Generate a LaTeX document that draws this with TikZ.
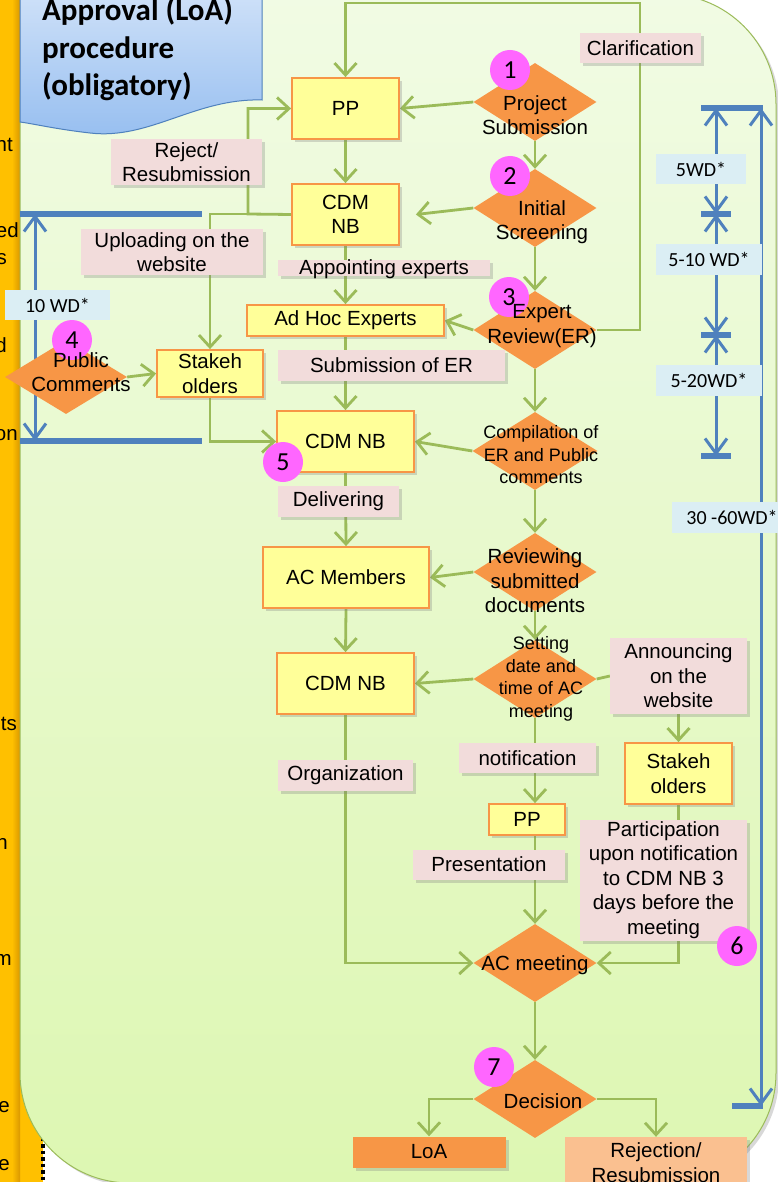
\documentclass[tikz,border=0pt]{standalone}
\usepackage{fontspec}
\setmainfont{Liberation Sans}
\newfontfamily\calfont{Carlito}
\usetikzlibrary{arrows.meta,shapes.geometric,shadows,calc}
\pgfdeclarelayer{bg}
\pgfsetlayers{bg,main}
\definecolor{cgreen}{RGB}{155,187,89}
\definecolor{corange}{RGB}{247,150,70}
\definecolor{cyellow}{RGB}{255,255,153}
\definecolor{cpink}{RGB}{242,220,219}
\definecolor{cpeach}{RGB}{250,192,144}
\definecolor{cblue}{RGB}{79,129,189}
\definecolor{clblue}{RGB}{219,238,244}
\definecolor{cmag}{RGB}{255,102,255}
\definecolor{cstrip}{RGB}{255,192,0}
\definecolor{cstripd}{RGB}{218,152,0}
\definecolor{cpanelA}{RGB}{241,251,228}
\definecolor{cpanelB}{RGB}{221,247,178}
\definecolor{ctitA}{RGB}{205,224,248}
\definecolor{ctitB}{RGB}{150,190,240}
\newcommand\fLab{\fontsize{20.5}{24.5}\selectfont}
\newcommand\fSml{\fontsize{18}{22.5}\selectfont}
\newcommand\fWd{\calfont\fontsize{20}{24}\selectfont}
\newcommand\fNum{\calfont\fontsize{26}{30}\selectfont}
\newcommand\fTtl{\calfont\bfseries\fontsize{31}{37}\selectfont}
\tikzset{
  shad/.style={drop shadow={shadow xshift=3pt,shadow yshift=-3pt,opacity=0.3}},
  ybox/.style={draw=corange, line width=1.8pt, fill=cyellow, inner sep=0pt, align=center, font=\fLab, shad},
  plab/.style={fill=cpink, inner sep=0pt, align=center, font=\fLab, shad},
  dia/.style={diamond, fill=corange, inner sep=0pt, minimum width=123pt, minimum height=78pt},
  dtxt/.style={align=center, font=\fLab, inner sep=0pt},
  stxt/.style={align=center, font=\fSml, inner sep=0pt},
  wdl/.style={fill=clblue, inner sep=0pt, font=\fWd},
  num/.style={circle, fill=cmag, minimum size=40pt, inner sep=0pt, font=\fNum},
  conn/.style={draw=cgreen, line width=2.8pt, -{Straight Barb[length=12pt,width=22pt]}},
  cline/.style={draw=cgreen, line width=2.8pt},
  bdim/.style={draw=cblue, line width=3pt},
  bbar/.style={draw=cblue, line width=5.5pt},
  bboth/.style={bdim, {Straight Barb[length=15pt,width=22pt]}-{Straight Barb[length=15pt,width=22pt]}},
  frag/.style={anchor=base east, font=\fLab, inner sep=0pt}
}
\begin{document}
\begin{tikzpicture}[x=1pt,y=-1pt]
\useasboundingbox (0,0) rectangle (778,1182);
\begin{pgfonlayer}{bg}
  \fill[white] (0,0) rectangle (778,1182);
  \fill[cstrip] (0,0) rectangle (43,1182);
  \draw[black, line width=3.5pt, dash pattern=on 3.5pt off 3pt] (43,0) -- (43,1182);
  \shade[left color=cstrip, right color=cstripd] (12,0) rectangle (20,1182);
  \draw[cgreen, line width=1pt, top color=cpanelA, bottom color=cpanelB, rounded corners=110pt, shad] (20,-6) rectangle (776,1183);
  % blue dimension lines
  \draw[bbar] (20,214) -- (202,214);
  \draw[bbar] (20,441) -- (202,441);
  \draw[bboth] (35,214) -- (35,441);
  \draw[bbar] (701,108) -- (763,108);
  \draw[bbar] (701,214) -- (731,214);
  \draw[bbar] (701,335) -- (731,335);
  \draw[bbar] (701,456) -- (731,456);
  \draw[bbar] (732,1106) -- (763,1106);
  \draw[bboth] (716,108) -- (716,214);
  \draw[bboth] (716,214) -- (716,335);
  \draw[bboth] (716,335) -- (716,456);
  \draw[bboth] (761,108) -- (761,1106);
\end{pgfonlayer}

% left strip fragments
\node[frag] (f1) at (13,152) {nt};
\node[frag] (f2) at (19,238) {ed};
\node[frag] (f3) at (7,265) {s};
\node[frag] (f4) at (7,352) {d};
\node[frag] (f5) at (18,440) {on};
\node[frag] (f6) at (17,730) {ts};
\node[frag] (f7) at (8,849) {n};
\node[frag] (f8) at (12,965) {m};
\node[frag] (f9) at (10,1112) {e};
\node[frag] (f10) at (10,1170) {e};

% title
\path[draw=cblue, line width=1pt, top color=ctitA, bottom color=ctitB]
  (20,-5) -- (262,-5) -- (262,100) .. controls (195,98) and (150,140) .. (90,133)
  .. controls (55,129) and (35,124) .. (20,122) -- cycle;
\node[anchor=base west, font=\fTtl, inner sep=0pt] (ttl1) at (42,21) {Approval (LoA)};
\node[anchor=base west, font=\fTtl, inner sep=0pt] (ttl2) at (42,59) {procedure};
\node[anchor=base west, font=\fTtl, inner sep=0pt] (ttl3) at (42,96) {(obligatory)};

% yellow boxes
\node[ybox, minimum width=107, minimum height=61] (pp) at (345.5,108.5) {PP};
\node[ybox, minimum width=107, minimum height=61] (cdm2) at (345.5,214.5) {CDM\\NB};
\node[ybox, minimum width=197, minimum height=31] (adhoc) at (345.5,320.5) {Ad Hoc Experts};
\node[ybox, minimum width=106, minimum height=47] (sh1) at (210,373.5) {Stakeh\\olders};
\node[ybox, minimum width=137, minimum height=61] (cdm5) at (345.5,441.5) {CDM NB};
\node[ybox, minimum width=166, minimum height=61] (acmem) at (346,577.5) {AC Members};
\node[ybox, minimum width=137, minimum height=61] (cdm3) at (345.5,683.5) {CDM NB};
\node[ybox, minimum width=76, minimum height=31] (pps) at (527,819.5) {PP};
\node[ybox, minimum width=107, minimum height=61] (sh2) at (678.5,773.5) {Stakeh\\olders};

% results
\node[fill=corange, minimum width=153, minimum height=31, inner sep=0pt, font=\fLab, shad] (loa) at (429,1152) {LoA};
\node[fill=cpeach, minimum width=182, minimum height=51, inner sep=0pt, align=center, font=\fLab, shad] (rej) at (656,1162.5) {Rejection/\\Resubmission};

% pink labels
\node[plab, minimum width=121, minimum height=30] (clar) at (640.5,48) {Clarification};
\node[plab, minimum width=151, minimum height=46] (rejl) at (186.5,162) {Reject/\\Resubmission};
\node[plab, minimum width=182, minimum height=46] (upl) at (172,252) {Uploading on the\\website};
\node[plab, minimum width=212, text height=14pt, text depth=2pt] (appt) at (384,268) {Appointing experts};
\node[plab, minimum width=227, minimum height=31] (subm) at (391.5,365.5) {Submission of ER};
\node[plab, minimum width=121, minimum height=31] (deliv) at (338.5,501.5) {Delivering};
\node[plab, minimum width=135, minimum height=31] (org) at (345.5,775.5) {Organization};
\node[plab, minimum width=137, minimum height=30] (notif) at (527.5,758) {notification};
\node[plab, minimum width=137, minimum height=76] (ann) at (678.5,676) {Announcing\\on the\\website};
\node[plab, minimum width=152, minimum height=30] (pres) at (489,864.5) {Presentation};
\node[plab, minimum width=167, minimum height=121] (part) at (663.5,880) {Participation\\upon notification\\to CDM NB 3\\days before the\\meeting};

% WD labels
\node[wdl, minimum width=105, minimum height=30] (w10) at (57.5,305) {10 WD*};
\node[wdl, minimum width=90, minimum height=30] (w5) at (701,169) {5WD*};
\node[wdl, minimum width=106, minimum height=31] (w510) at (709,259.5) {5-10 WD*};
\node[wdl, minimum width=106, minimum height=31] (w520) at (709,380.5) {5-20WD*};
\node[wdl, minimum width=120, minimum height=31] (w3060) at (732,517.5) {30 -60WD*};

% diamonds
\node[dia] (d1) at (535,102) {};
\node[dia] (d2) at (535,208) {};
\node[dia] (d3) at (535,330) {};
\node[dia, minimum width=125] (d4) at (535,451) {};
\node[dia] (d5) at (535,572) {};
\node[dia] (d6) at (535,679) {};
\node[dia] (acm) at (535,963) {};
\node[dia] (dec) at (535,1099) {};
\node[dia, minimum width=122, minimum height=74] (pc) at (66,377) {};

% number circles
\node[num] (n1) at (510,70) {1};
\node[num] (n2) at (510,176) {2};
\node[num] (n3) at (509,297) {3};
\node[num] (n4) at (72,340) {4};
\node[num] (n5) at (283,462) {5};
\node[num] (n6) at (737,946) {6};
\node[num] (n7) at (494,1067) {7};

% diamond texts
\node[dtxt] (t1) at (535,115) {Project\\Submission};
\node[dtxt] (t2) at (542,222) {Initial\\Screening};
\node[dtxt] (t3) at (542,326) {Expert\\Review(ER)};
\node[stxt] (t4) at (541,455) {Compilation of\\ER and Public\\comments};
\node[dtxt] (t5) at (535,581) {Reviewing\\submitted\\documents};
\node[stxt] (t6) at (541,679) {Setting\\date and\\time of AC\\meeting};
\node[dtxt] (t7) at (535,965) {AC meeting};
\node[dtxt] (t8) at (543,1101) {Decision};
\node[dtxt] (t9) at (81,372) {Public\\Comments};

% connectors
\begin{pgfonlayer}{bg}
  \coordinate (lt) at (640,3);
  \coordinate (j1) at (248,214);
  \draw[conn] (d1.west) -- (pp.east);
  \draw[conn] (d1.south) -- (d2.north);
  \draw[conn] (d2.south) -- (d3.north);
  \draw[conn] (d3.south) -- (d4.north);
  \draw[conn] (d4.south) -- (d5.north);
  \draw[conn] (d5.south) -- (d6.north);
  \draw[conn] (d6.south) -- (d6.south |- pps.north);
  \draw[conn] (d6.south |- pps.south) -- (acm.north);
  \draw[conn] (acm.south) -- (dec.north);
  \draw[conn] (dec.west) -| (loa.north);
  \draw[conn] (dec.east) -| (rej.north);
  \draw[conn] (d3.east) -| (lt) -| (pp.north);
  \draw[conn] (pp.south) -- (cdm2.north);
  \draw[conn] (d2.west) -- ([xshift=16pt]cdm2.east);
  \draw[conn] (cdm2.south) -- (adhoc.north);
  \draw[conn] (d3.west) -- (adhoc.east);
  \draw[conn] (adhoc.south) -- (cdm5.north);
  \draw[conn] (d4.west) -- (cdm5.east);
  \draw[conn] (cdm5.south) -- (acmem.north);
  \draw[conn] (d5.west) -- (acmem.east);
  \draw[conn] (acmem.south) -- (cdm3.north);
  \draw[conn] (d6.west) -- (cdm3.east);
  \draw[conn] (cdm3.south) |- (acm.west);
  \draw[cline] (d6.east) -- (ann.west);
  \draw[conn] (ann.south) -- (sh2.north);
  \draw[conn] (sh2.south) |- (acm.east);
  \draw[conn] (cdm2.west) -- (j1) |- (pp.west);
  \draw[conn] (j1) -| (sh1.north);
  \draw[conn] (sh1.south) |- (cdm5.west);
  \draw[conn] (pc.east) -- (sh1.west);
\end{pgfonlayer}
\end{tikzpicture}
\end{document}
